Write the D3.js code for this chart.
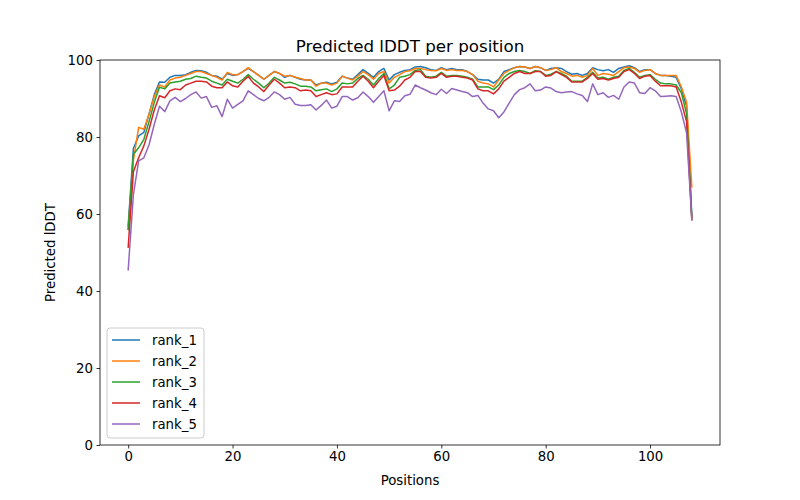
<!DOCTYPE html>
<html>
<head>
<meta charset="utf-8">
<script src="https://cdn.jsdelivr.net/npm/d3@7"></script>
<style>
body{margin:0;background:#fff;}
text{font-family:"DejaVu Sans",sans-serif;}
</style>
</head>
<body>
<div id="plot"></div>
<script>
//chart values
var seriesNames = ['rank_1','rank_2','rank_3','rank_4','rank_5'];
var colors = ['#1f77b4','#ff7f0e','#2ca02c','#d62728','#9467bd'];
var xTicks = [0,20,40,60,80,100];
var yTicks = [0,20,40,60,80,100];

var rank_1 = [57,77,80.3,81.2,86,91,94.3,94.2,95.5,96,96,96.2,96.8,97.3,97.2,96.8,96,95.8,95,96.5,
  96,96.2,97,97.8,97,96,95,96,97,96.5,95.5,96,95.5,95,94.8,94.8,93.5,94,94.2,93.8,
  94.2,95.8,95.3,95,96.2,97.5,96.5,95.5,97,97.8,94.8,96.2,96.8,97.3,97.5,98.2,98.3,98,97.5,97.3,
  98,97.5,97.8,97.5,97.5,97,96.2,95,94.8,94.8,94,95,97,97.5,98,98.3,98.2,97.8,98.3,98,
  97.3,97.8,98,97.8,97,96.3,96.5,96,96.5,98,97.5,97.2,97.5,96.8,97.8,98.2,98.5,98,97,97.5,
  97.5,96.5,96,96,95.8,95.5,92.5,88,59.5];
var rank_2 = [56,74,82.5,82,86,90.5,93.5,93,94.8,95.3,95.5,96,96.5,97,97,96.5,96,95.5,94.8,96.8,
  96.2,96.2,97,98,97,96,95,96,97,96.5,95.8,96,95.5,95.2,94.8,94.8,93.2,94,94,93.5,
  94,95.8,95.3,94.8,95.8,97,96.2,95,96.5,97,94,95.5,96.2,97,97.2,97.8,97.8,97.5,97.3,97.2,
  97.8,97.3,97.5,97.3,97.3,97,96.2,94.5,94,93.8,93,94.8,96.5,97.3,98,98.3,98.2,97.8,98.3,98,
  97.3,97.5,98,97,96.5,95.8,96,95.5,96,97.8,96,96.5,96.3,96,97,98,98.2,97.8,96.8,97.3,
  97.5,96.5,96,96,96,96,93,89,67];
var rank_3 = [56,75.5,77.2,79.4,84,89,92.9,92.5,94,94.3,94.5,95,95.2,95.8,95.5,95.3,94.5,94,93.5,95,
  94.5,94,95,96.2,95,94,92.8,94,95.5,94.8,94,94.2,93.8,93.2,93.2,93,92,92.3,92.5,91.8,
  92.5,94,93.8,94,95.2,96,95,93.5,95.2,96.5,92.5,93.5,95.5,95.8,96.2,97.3,97.5,95.8,95.5,95.8,
  96.8,95.8,96,96,95.8,95.5,95,93,93,93,92.3,93.5,95.5,96.5,97,97.3,97,96.5,97.2,97,
  96,96.3,97,96.5,95.8,94.5,94.5,94.5,95.5,96.8,95.3,95.5,95,95.5,95.8,97.3,97.8,96.8,95.5,96,
  96.2,95,94,93.8,93.8,93.5,91.5,86,59];
var rank_4 = [51.4,71,74.6,77.7,82,87,90.7,90.2,92,92.5,92.3,93.5,94,94.5,94.5,94.3,93.2,92.8,92.8,94.3,
  93.3,93,94.5,95.7,94,93,91.8,93.5,95,94,92.8,93,92.8,92,92.2,92,90.5,91,91.5,91,
  91.2,93,93,93,94.5,95.8,94.5,92.8,94.5,96,92,92.2,93.2,94.8,95.5,97,97,95.5,95.3,95.5,
  96.5,95.5,95.8,95.8,95.5,95.3,94.8,92.5,92,92,91.2,92.5,94.5,95.5,96.5,97,96.5,96.5,97,97,
  95.8,96,97,96.2,95.5,94.3,94.3,94.3,95.2,96.5,95,95.2,94.8,95.2,95.5,97,97.5,96.5,95.2,95.8,
  96,94.5,93.3,93.3,93.3,93,89,84,58.5];
var rank_5 = [45.5,65,73.8,74.6,78,83.3,88,86.6,89.4,90.3,89.2,90,91,91.7,90.1,90.5,87.7,88.1,85.3,89.8,
  87.5,88.5,89.4,92,91,90,89.4,90.3,91.7,91,89.8,90.3,88.5,88.2,88.2,88.4,87,88.2,89.6,87.5,
  88,90.5,90.5,89.6,90.2,91.7,90.5,89,90.5,92,86.8,89.4,89.2,90.7,91.1,93.5,92.8,92.2,91.5,91,
  92.4,91.3,92.6,92.2,91.8,91.5,90.5,90.8,88.8,87.3,86.8,85,86.5,88.8,91,92.3,92.8,93.8,92,92.2,
  93,92.7,91.8,91.5,91.7,91.8,91.2,90.8,89.2,93.8,91,91.5,90.3,90.8,89.8,93,94.3,94,91.5,91.3,
  92.8,92,90.5,90.6,90.7,90.5,86.5,81,58.5];

var allSeries = [rank_1,rank_2,rank_3,rank_4,rank_5];

//drawing area, same as matplotlib defaults for 8x5in at 100dpi
var margin = {t:60,r:80,b:55,l:100};
var W = 800, H = 500;
var width = W-margin.l-margin.r,
    height = H-margin.t-margin.b;

var svg = d3.select('#plot')
    .append('svg')
    .attr('width',W)
    .attr('height',H);

var plot = svg.append('g')
    .attr('transform','translate('+margin.l+','+margin.t+')');

var n = rank_1.length;
var pad = (n-1)*0.05;
var x = d3.scaleLinear().domain([-pad,n-1+pad]).range([0,width]);
var y = d3.scaleLinear().domain([0,100]).range([height,0]);

var line = d3.line()
    .x(function(d,i){return x(i);})
    .y(function(d){return y(d);});

allSeries.forEach(function(s,k){
    plot.append('path')
        .datum(s)
        .attr('d',line)
        .attr('fill','none')
        .attr('stroke',colors[k])
        .attr('stroke-width',1.5)
        .attr('stroke-linejoin','round')
        .attr('stroke-linecap','square');
});

//axes
var xAxis = plot.append('g')
    .attr('transform','translate(0,'+height+')')
    .call(d3.axisBottom(x).tickValues(xTicks).tickSize(3.5).tickPadding(3.5));
var yAxis = plot.append('g')
    .call(d3.axisLeft(y).tickValues(yTicks).tickSize(3.5).tickPadding(3.5));
[xAxis,yAxis].forEach(function(a){
    a.selectAll('text').style('font-size','13.3px').attr('fill','#000');
    a.selectAll('line').attr('stroke','#000').attr('stroke-width',0.8);
    a.select('.domain').remove();
});

//frame
plot.append('rect')
    .attr('width',width)
    .attr('height',height)
    .attr('fill','none')
    .attr('stroke','#000')
    .attr('stroke-width',0.8);

//labels
svg.append('text')
    .attr('x',margin.l+width/2)
    .attr('y',margin.t-8)
    .attr('text-anchor','middle')
    .style('font-size','16.7px')
    .text('Predicted lDDT per position');
svg.append('text')
    .attr('x',margin.l+width/2)
    .attr('y',H-15)
    .attr('text-anchor','middle')
    .style('font-size','13.3px')
    .text('Positions');
svg.append('text')
    .attr('transform','translate(55,'+(margin.t+height/2)+') rotate(-90)')
    .attr('text-anchor','middle')
    .style('font-size','13.3px')
    .text('Predicted lDDT');

//legend
var lg = plot.append('g').attr('transform','translate(7,'+(height-117)+')');
lg.append('rect')
    .attr('width',97)
    .attr('height',110)
    .attr('rx',3)
    .attr('fill','#fff')
    .attr('fill-opacity',0.8)
    .attr('stroke','#ccc')
    .attr('stroke-width',1);
seriesNames.forEach(function(name,k){
    var row = lg.append('g').attr('transform','translate(0,'+(12+k*21)+')');
    row.append('line')
        .attr('x1',5).attr('x2',33)
        .attr('stroke',colors[k])
        .attr('stroke-width',1.5);
    row.append('text')
        .attr('x',45)
        .attr('dy','0.35em')
        .style('font-size','13.3px')
        .text(name);
});
</script>
</body>
</html>
